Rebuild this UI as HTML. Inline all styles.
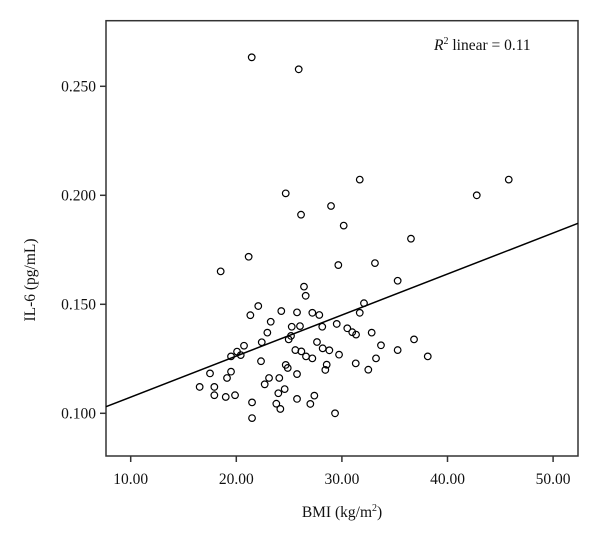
<!DOCTYPE html>
<html><head><meta charset="utf-8"><style>
html,body{margin:0;padding:0;background:#fff;}
svg{display:block;font-family:"Liberation Serif",serif;}
</style></head><body>
<svg id="chart" width="600" height="544" viewBox="0 0 600 544" xmlns="http://www.w3.org/2000/svg">
<rect x="106" y="20.7" width="472" height="435.3" fill="none" stroke="#333" stroke-width="1.5"/>
<g id="xticks"></g>
<g id="yticks"></g>
<line id="fit" stroke="#000" stroke-width="1.5"/>
<g id="pts"></g>
<text x="434" y="50" font-size="15.5" fill="#111"><tspan font-style="italic">R</tspan><tspan font-size="10" dy="-6">2</tspan><tspan dy="6"> linear = 0.11</tspan></text>
<text x="342" y="517" font-size="15.5" text-anchor="middle" fill="#111">BMI (kg/m<tspan font-size="10" dy="-6">2</tspan><tspan dy="6">)</tspan></text>
<text transform="translate(35,280) rotate(-90)" font-size="15.5" text-anchor="middle" fill="#111">IL-6 (pg/mL)</text>
</svg>
<script>
const bmi=[18.52,21.17,22.08,21.33,24.26,25.75,23.26,25.25,22.94,22.41,25.18,24.96,20.73,20.07,20.42,19.50,25.59,22.34,24.68,24.87,17.51,19.50,19.12,23.10,24.07,25.75,16.53,17.92,22.69,24.58,17.92,19.00,19.88,23.98,21.49,23.79,24.17,25.75,21.49,26.41,26.57,35.28,32.09,27.20,27.86,31.69,26.03,28.14,29.51,30.51,30.98,31.34,32.82,27.64,28.18,28.81,29.73,33.70,36.83,35.28,38.13,26.16,26.60,27.20,33.23,28.56,28.43,31.31,32.50,27.39,27.01,29.35,21.46,25.91,31.69,24.68,28.97,26.13,30.17,36.54,29.66,33.13,45.80,42.77];
const il6=[0.1651,0.1718,0.1492,0.1450,0.1469,0.1463,0.1420,0.1397,0.1370,0.1326,0.1355,0.1339,0.1310,0.1283,0.1267,0.1261,0.1290,0.1239,0.1222,0.1208,0.1183,0.1191,0.1162,0.1162,0.1162,0.1180,0.1121,0.1121,0.1133,0.1111,0.1083,0.1075,0.1083,0.1092,0.1050,0.1044,0.1020,0.1066,0.0978,0.1581,0.1539,0.1608,0.1505,0.1461,0.1451,0.1461,0.1400,0.1397,0.1410,0.1390,0.1372,0.1361,0.1370,0.1327,0.1298,0.1289,0.1269,0.1312,0.1339,0.1290,0.1261,0.1284,0.1261,0.1252,0.1252,0.1223,0.1199,0.1229,0.1200,0.1081,0.1043,0.1000,0.2633,0.2578,0.2072,0.2009,0.1951,0.1911,0.1861,0.1801,0.1680,0.1689,0.2072,0.2000];
const xTickVals=[10,20,30,40,50];
const xTickLabels=["10.00","20.00","30.00","40.00","50.00"];
const yTickVals=[0.10,0.15,0.20,0.25];
const yTickLabels=["0.100","0.150","0.200","0.250"];
const fitSlope=[0.001882];
const fitIntercept=[0.08861];
const xDomain=[7.66,52.36];

const NS="http://www.w3.org/2000/svg";
function sx(v){return 130.7+(v-10)*10.56;}
function sy(v){return 413.3-(v-0.1)*2180;}
function mk(tag,attrs,parent){const e=document.createElementNS(NS,tag);for(const k in attrs)e.setAttribute(k,attrs[k]);parent.appendChild(e);return e;}
const xg=document.getElementById('xticks'),yg=document.getElementById('yticks'),pg=document.getElementById('pts');
xTickVals.forEach((v,i)=>{
  const t=mk('line',{x1:sx(v),x2:sx(v),y1:456,y2:462,stroke:'#333','stroke-width':1.5},xg);
  
  
  const l=mk('text',{x:sx(v),y:484,'font-size':15.5,'text-anchor':'middle',fill:'#111'},xg);
  l.textContent=xTickLabels[i];
  
  
});
yTickVals.forEach((v,i)=>{
  const t=mk('line',{x1:100,x2:106,y1:sy(v),y2:sy(v),stroke:'#333','stroke-width':1.5},yg);
  
  
  const l=mk('text',{x:96,y:sy(v)+5,'font-size':15.5,'text-anchor':'end',fill:'#111'},yg);
  l.textContent=yTickLabels[i];
  
  
});
const fit=document.getElementById('fit');
fit.setAttribute('x1',sx(xDomain[0]));fit.setAttribute('y1',sy(fitIntercept[0]+fitSlope[0]*xDomain[0]));
fit.setAttribute('x2',sx(xDomain[1]));fit.setAttribute('y2',sy(fitIntercept[0]+fitSlope[0]*xDomain[1]));
bmi.forEach((b,i)=>{
  const c=mk('circle',{cx:sx(b),cy:sy(il6[i]),r:3.3,fill:'none',stroke:'#000','stroke-width':1.2},pg);
  
  
});
</script>
</body></html>
